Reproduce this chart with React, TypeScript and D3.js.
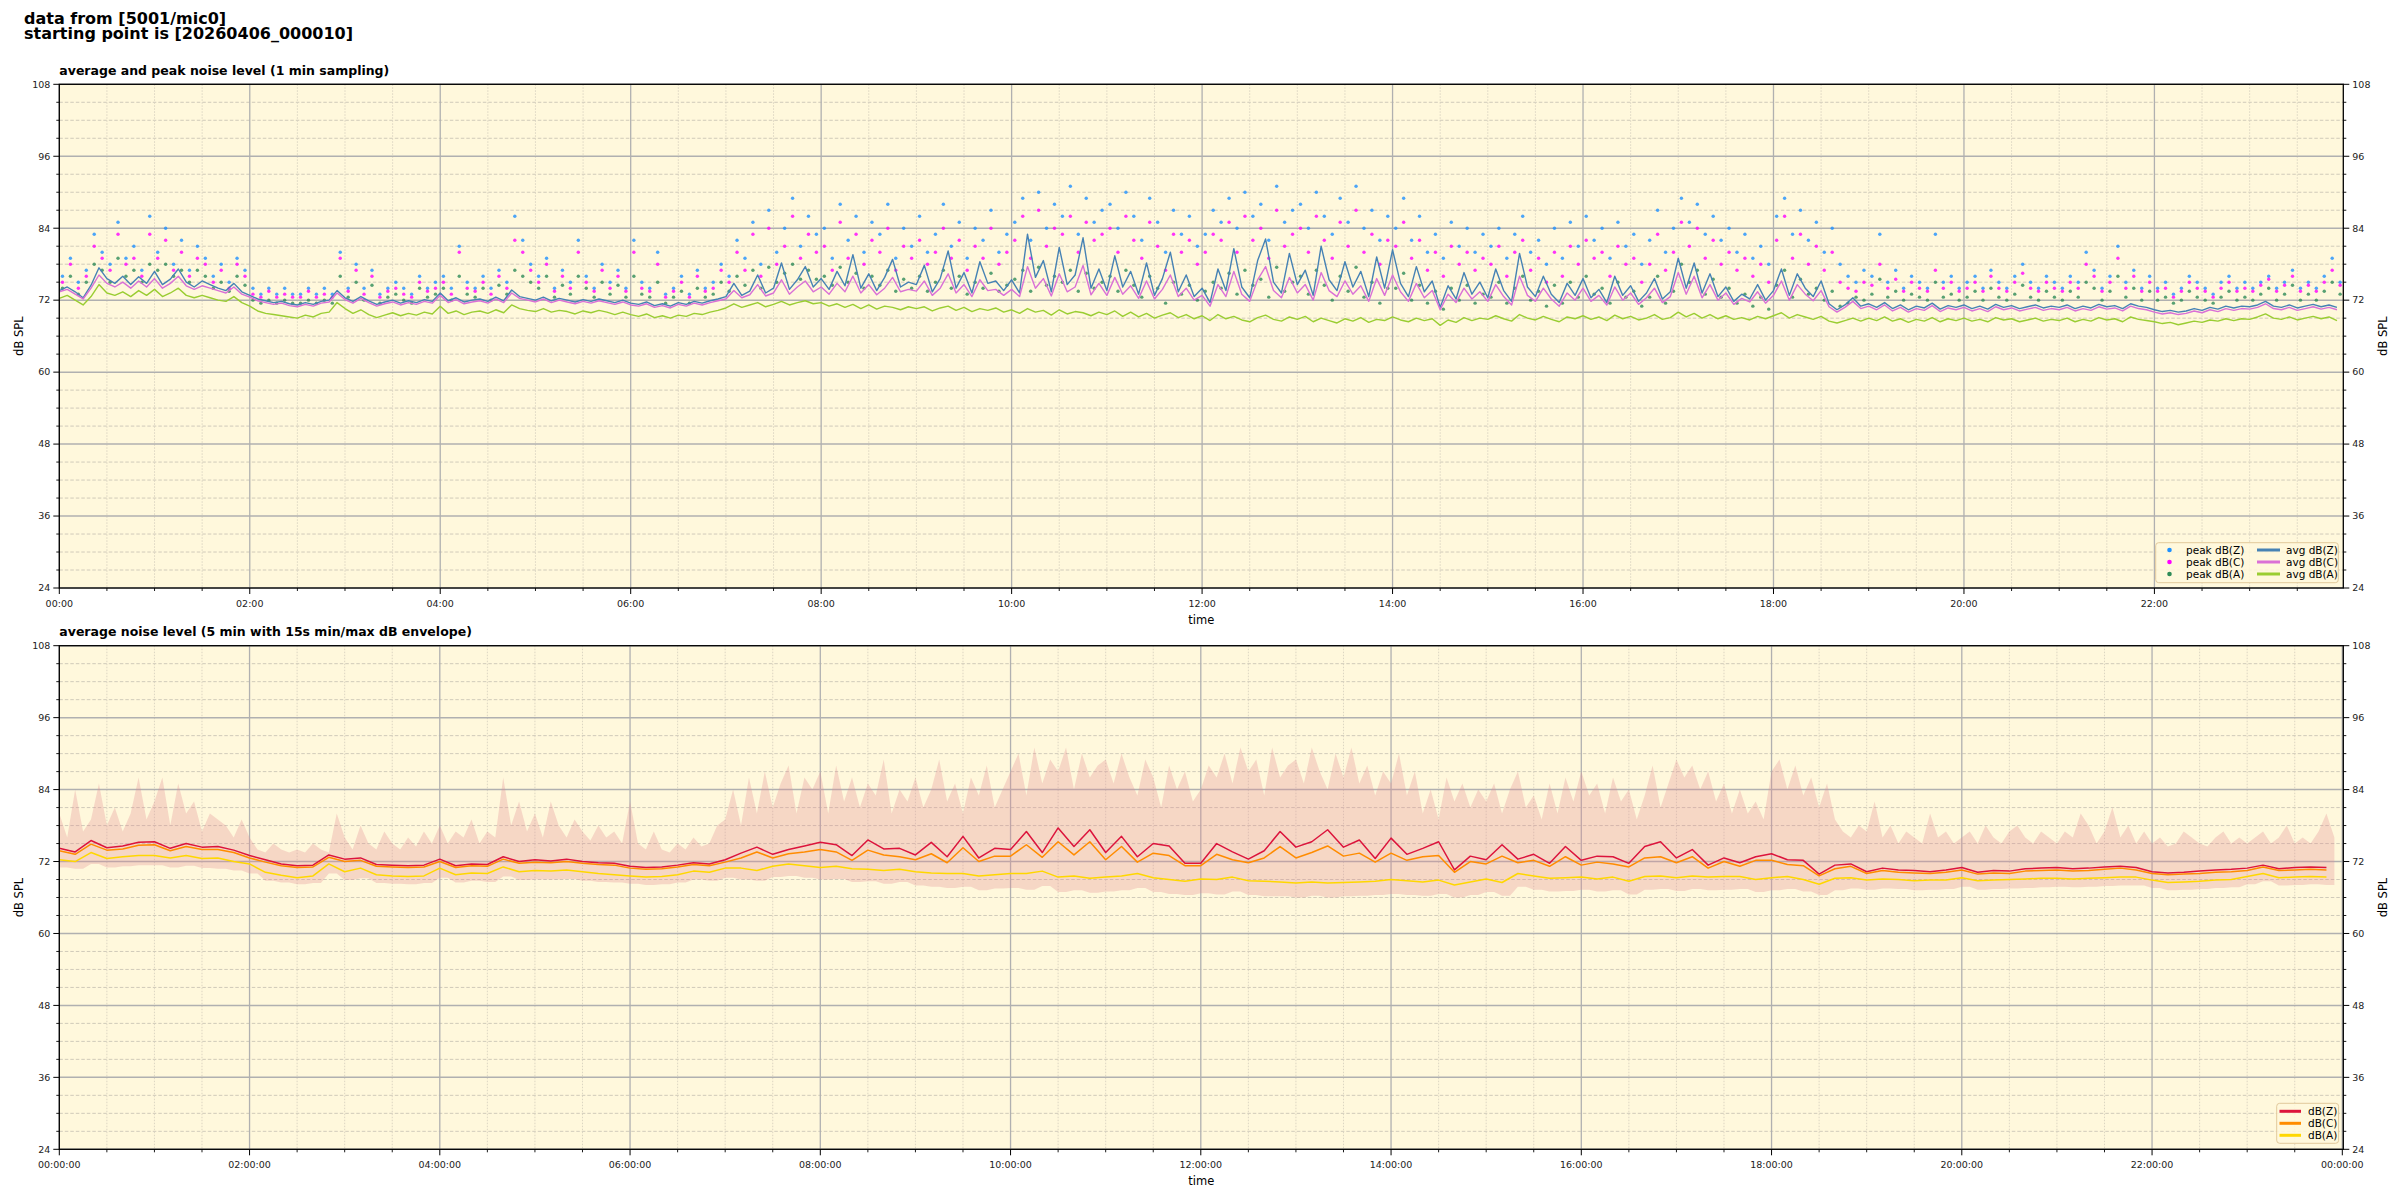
import * as d3 from "d3";

const FONT = "'DejaVu Sans', Verdana, sans-serif";
const WIDTH = 2400;
const HEIGHT = 1200;

const Y_TICKS = [24, 36, 48, 60, 72, 84, 96, 108];
const TOP_X_LABELS = ["00:00", "02:00", "04:00", "06:00", "08:00", "10:00", "12:00", "14:00", "16:00", "18:00", "20:00", "22:00"];
const BOTTOM_X_LABELS = ["00:00:00", "02:00:00", "04:00:00", "06:00:00", "08:00:00", "10:00:00", "12:00:00", "14:00:00", "16:00:00", "18:00:00", "20:00:00", "22:00:00", "00:00:00"];

// sampling steps in minutes
const TOP_STEP = 5;
const BOTTOM_STEP = 10;
const ENV_STEP = 5;

// --- top panel: 1 min averages (one row per hour, 5 min apart) ---
const AVG_Z = [
  73.6, 74.2, 73.4, 72.4, 74.5, 77.4, 75.6, 74.8, 76.0, 74.6, 75.9, 74.8,
  76.8, 74.6, 75.5, 77.2, 75.0, 74.2, 75.2, 74.6, 74.0, 73.6, 74.8, 73.4,
  72.8, 72.2, 71.9, 71.6, 71.8, 71.4, 71.2, 71.6, 71.3, 71.8, 72.0, 73.6,
  72.4, 71.8, 72.6, 71.9, 71.3, 71.7, 72.0, 71.5, 71.9, 71.6, 72.1, 71.8,
  73.2, 71.9, 72.4, 71.7, 72.0, 72.2, 71.8, 72.5, 71.9, 73.7, 72.6, 72.3,
  72.0, 72.5, 71.9, 72.3, 72.0, 71.7, 72.1, 71.8, 72.2, 71.9, 71.6, 72.0,
  71.5, 71.3, 71.7, 71.1, 71.4, 71.0, 71.6, 71.3, 71.8, 71.5, 71.9, 72.2,
  72.6, 74.8, 72.8, 73.5, 76.2, 73.2, 74.0, 78.2, 73.8, 75.4, 77.6, 74.2,
  75.6, 73.8, 76.8, 74.4, 79.6, 74.0, 76.4, 73.6, 75.8, 78.8, 74.2, 75.0,
  74.6, 77.8, 73.4, 75.6, 80.2, 74.0, 76.6, 73.2, 78.4, 74.8, 75.2, 73.6,
  75.4, 73.2, 83.0, 75.8, 78.6, 73.4, 80.8, 74.6, 76.2, 82.4, 74.0, 77.2,
  73.6, 79.4, 74.2, 76.8, 73.0, 78.2, 72.8, 75.6, 80.0, 73.4, 76.2, 72.6,
  74.0, 71.6, 77.2, 73.6, 80.6, 74.2, 72.4, 78.6, 82.2, 75.0, 73.2, 79.8,
  74.6, 77.0, 72.8, 81.0, 75.4, 73.6, 78.4, 74.2, 76.8, 72.6, 79.2, 74.0,
  80.4, 74.8, 72.6, 77.6, 73.4, 75.2, 70.8, 74.4, 72.2, 76.6, 73.0, 75.0,
  72.4, 77.2, 73.6, 71.8, 79.8, 74.2, 72.6, 76.0, 73.0, 71.6, 74.8, 72.8,
  75.6, 72.4, 73.8, 71.6, 76.0, 72.8, 74.4, 71.8, 73.2, 75.6, 72.2, 73.4,
  79.0, 74.0, 78.2, 73.2, 76.4, 72.6, 74.2, 71.8, 73.0, 72.2, 74.6, 72.0,
  73.6, 77.2, 72.8, 76.4, 74.0, 72.6, 75.2, 71.4, 70.4, 71.2, 72.4, 71.0,
  71.4, 70.8, 71.6, 70.6, 71.2, 70.4, 71.0, 70.7, 71.5, 70.5, 71.1, 70.8,
  71.2, 70.6, 71.0, 70.5, 71.3, 70.8, 71.1, 70.6, 70.9, 71.2, 70.7, 71.0,
  70.8, 71.2, 70.6, 71.0, 70.7, 71.3, 70.9, 71.1, 70.6, 71.4, 71.0, 70.8,
  70.4, 70.1, 70.3, 70.0, 70.2, 70.6, 70.3, 70.8, 70.5, 71.0, 70.7, 71.0,
  70.9, 71.2, 71.8, 71.0, 70.8, 71.2, 70.7, 71.0, 71.3, 70.9, 71.2, 70.8,
];

const AVG_C = [
  73.4, 73.8, 73.0, 72.2, 74.0, 76.2, 74.8, 74.2, 75.0, 74.0, 75.2, 74.2,
  75.6, 74.0, 74.8, 76.0, 74.4, 73.8, 74.4, 74.0, 73.6, 73.2, 74.2, 73.0,
  72.5, 71.9, 71.6, 71.3, 71.5, 71.1, 70.9, 71.3, 71.0, 71.5, 71.7, 73.2,
  72.1, 71.5, 72.3, 71.6, 71.0, 71.4, 71.7, 71.2, 71.6, 71.3, 71.8, 71.5,
  72.8, 71.6, 72.1, 71.4, 71.7, 71.9, 71.5, 72.2, 71.6, 73.2, 72.3, 72.0,
  71.7, 72.2, 71.6, 72.0, 71.7, 71.4, 71.8, 71.5, 71.9, 71.6, 71.3, 71.7,
  71.2, 71.0, 71.4, 70.8, 71.1, 70.7, 71.3, 71.0, 71.5, 71.2, 71.6, 71.9,
  72.2, 73.6, 72.4, 72.9, 74.6, 72.7, 73.2, 75.4, 73.0, 74.2, 75.2, 73.4,
  74.2, 73.0, 74.8, 73.4, 76.0, 73.2, 74.6, 72.9, 74.0, 75.8, 73.4, 73.8,
  73.5, 75.2, 72.8, 74.0, 76.4, 73.2, 74.6, 72.6, 75.4, 73.6, 73.8, 72.8,
  73.8, 72.6, 77.6, 74.0, 75.6, 72.7, 76.4, 73.4, 74.2, 77.8, 72.9, 74.8,
  72.8, 75.8, 73.0, 74.4, 72.3, 75.2, 72.2, 73.8, 76.2, 72.6, 74.0, 72.0,
  72.8, 71.0, 74.6, 72.6, 76.8, 73.0, 71.8, 75.4, 77.6, 73.6, 72.4, 75.8,
  73.2, 74.6, 72.0, 76.6, 73.6, 72.6, 75.2, 73.0, 74.4, 71.8, 75.6, 72.8,
  76.2, 73.4, 71.8, 74.8, 72.4, 73.6, 70.4, 73.0, 71.6, 74.0, 72.2, 73.4,
  71.8, 74.6, 72.6, 71.2, 76.0, 72.8, 71.8, 74.0, 72.2, 71.0, 73.2, 72.0,
  74.0, 71.8, 72.8, 71.2, 74.2, 72.0, 73.2, 71.3, 72.4, 74.0, 71.6, 72.6,
  76.6, 73.0, 76.0, 72.4, 74.6, 72.0, 73.2, 71.3, 72.3, 71.7, 73.4, 71.5,
  72.8, 75.2, 72.0, 74.6, 73.0, 71.9, 73.6, 70.9, 70.0, 70.8, 71.8, 70.6,
  71.0, 70.4, 71.2, 70.2, 70.8, 70.0, 70.6, 70.3, 71.1, 70.1, 70.7, 70.4,
  70.8, 70.2, 70.6, 70.1, 70.9, 70.4, 70.7, 70.2, 70.5, 70.8, 70.3, 70.6,
  70.4, 70.8, 70.2, 70.6, 70.3, 70.9, 70.5, 70.7, 70.2, 71.0, 70.6, 70.4,
  70.0, 69.7, 69.9, 69.6, 69.8, 70.2, 69.9, 70.4, 70.1, 70.6, 70.3, 70.6,
  70.5, 70.8, 71.4, 70.6, 70.4, 70.8, 70.3, 70.6, 70.9, 70.5, 70.8, 70.4,
];

const AVG_A = [
  72.3, 72.8, 72.0, 71.2, 72.6, 74.6, 73.2, 72.8, 73.4, 72.6, 73.6, 72.8,
  73.8, 72.6, 73.2, 74.0, 72.8, 72.4, 72.8, 72.4, 72.0, 71.8, 72.6, 71.6,
  71.0, 70.2, 69.8, 69.6, 69.4, 69.2, 69.0, 69.5, 69.2, 69.8, 70.0, 71.6,
  70.6, 69.8, 70.4, 69.6, 69.1, 69.5, 69.9, 69.4, 69.8, 69.5, 70.0, 69.7,
  71.0, 69.8, 70.2, 69.6, 70.0, 70.2, 69.8, 70.4, 69.9, 71.2, 70.6, 70.3,
  70.1, 70.6, 70.0, 70.3, 70.1, 69.7, 70.2, 69.9, 70.3, 70.0, 69.6, 70.0,
  69.6, 69.3, 69.7, 69.1, 69.4, 69.0, 69.5, 69.3, 69.8, 69.6, 70.0, 70.3,
  70.7, 71.4, 70.8, 71.2, 71.6, 70.9, 71.3, 71.8, 71.2, 71.6, 71.9, 71.4,
  71.6, 71.0, 71.4, 70.8, 71.3, 70.6, 71.2, 70.5, 71.0, 70.8, 70.4, 70.9,
  70.6, 70.9, 70.2, 70.7, 71.0, 70.3, 70.8, 70.1, 70.6, 70.3, 70.7, 70.0,
  70.4, 69.8, 70.6, 70.0, 70.3, 69.5, 70.4, 69.7, 70.1, 69.9, 69.4, 70.0,
  69.6, 70.2, 69.3, 70.0, 69.2, 69.8, 69.0, 69.5, 69.9, 69.1, 69.6, 68.9,
  69.4, 68.6, 69.6, 68.9, 69.3, 68.7, 68.4, 69.1, 69.5, 68.8, 68.5, 69.2,
  68.8, 69.3, 68.4, 69.0, 68.6, 68.2, 68.9, 68.5, 69.1, 68.3, 68.8, 68.6,
  69.2, 68.7, 68.4, 69.0, 68.6, 68.9, 67.8, 68.7, 68.3, 69.1, 68.6, 69.0,
  68.8, 69.4, 68.9, 68.5, 69.6, 69.0, 68.7, 69.3, 68.8, 68.4, 69.2, 68.9,
  69.4, 68.8, 69.2, 68.6, 69.5, 68.9, 69.3, 68.7, 69.0, 69.6, 68.8, 69.1,
  70.0, 69.2, 69.8, 69.0, 69.6, 68.9, 69.4, 68.8, 69.1, 68.7, 69.3, 68.9,
  69.4, 69.9, 69.0, 69.6, 69.2, 68.8, 69.3, 68.5, 68.2, 68.6, 69.0, 68.5,
  69.0, 68.6, 69.2, 68.5, 68.9, 68.3, 68.8, 68.5, 69.1, 68.4, 68.9, 68.6,
  69.0, 68.5, 68.8, 68.4, 69.1, 68.7, 68.9, 68.4, 68.7, 69.0, 68.5, 68.8,
  68.6, 69.0, 68.4, 68.8, 68.5, 69.1, 68.7, 68.9, 68.4, 69.2, 68.8, 68.6,
  68.4, 68.1, 68.3, 67.9, 68.2, 68.5, 68.3, 68.7, 68.5, 68.9, 68.6, 68.9,
  68.8, 69.2, 69.7, 69.0, 68.8, 69.2, 68.7, 69.0, 69.3, 68.9, 69.2, 68.6,
];

// --- top panel: 1 min peaks ---
const PEAK_Z = [
  76, 79, 75, 77, 83, 80, 78, 85, 79, 81, 77, 86,
  80, 84, 78, 82, 77, 81, 79, 76, 78, 75, 79, 77,
  74, 73, 74, 73, 74, 73, 73, 74, 73, 74, 73, 80,
  74, 78, 74, 77, 73, 74, 75, 74, 73, 76, 74, 75,
  76, 74, 81, 75, 74, 76, 74, 77, 75, 86, 82, 78,
  76, 79, 74, 77, 75, 82, 76, 74, 78, 75, 77, 74,
  82, 75, 74, 80, 73, 74, 76, 73, 77, 74, 75, 78,
  76, 82, 79, 85, 78, 87, 80, 84, 89, 81, 86, 83,
  84, 79, 88, 82, 86, 80, 85, 83, 88, 79, 84, 81,
  86, 80, 83, 88, 81, 85, 79, 84, 82, 87, 80, 83,
  85, 89, 82, 90, 84, 88, 86, 91, 83, 89, 85, 87,
  88, 84, 90, 86, 82, 89, 85, 80, 87, 83, 86, 81,
  83, 87, 85, 89, 84, 90, 86, 88, 82, 91, 85, 87,
  88, 84, 90, 86, 83, 89, 85, 91, 84, 87, 82, 86,
  84, 89, 82, 86, 80, 83, 79, 85, 81, 84, 80, 83,
  81, 84, 79, 83, 86, 80, 82, 78, 84, 79, 85, 81,
  86, 82, 84, 79, 85, 81, 83, 78, 82, 87, 80, 84,
  89, 85, 88, 83, 86, 82, 84, 80, 83, 79, 81, 78,
  86, 89, 83, 87, 82, 85, 80, 84, 78, 76, 75, 77,
  76, 83, 75, 77, 74, 76, 75, 74, 83, 75, 76, 74,
  75, 76, 74, 77, 75, 74, 76, 78, 75, 74, 76, 75,
  74, 76, 75, 80, 77, 74, 76, 81, 75, 77, 74, 76,
  74, 75, 73, 74, 76, 75, 74, 73, 75, 76, 74, 75,
  74, 75, 76, 74, 75, 77, 74, 75, 74, 76, 79, 75,
];

const PEAK_C = [
  75, 78, 74, 76, 81, 79, 77, 83, 78, 79, 76, 83,
  79, 82, 77, 80, 76, 79, 78, 75, 77, 74, 78, 76,
  73, 72.5, 73.5, 72.5, 73, 72.5, 72.5, 73.5, 72.5, 73, 72.5, 79,
  73.5, 77, 73, 76, 72.5, 73.5, 74, 73, 72.5, 75, 73.5, 74,
  75, 73, 80, 74, 73.5, 75, 73, 76, 74, 82, 80, 77,
  75, 78, 73.5, 76, 74, 80, 75, 73.5, 77, 74, 76, 73.5,
  80, 74, 73.5, 78, 72.5, 73.5, 75, 72.5, 76, 73.5, 74, 77,
  75, 80, 77, 83, 76, 84, 78, 81, 86, 79, 83, 80,
  81, 77, 85, 79, 83, 78, 82, 80, 84, 77, 81, 79,
  82, 78, 80, 84, 79, 82, 77, 81, 79, 84, 78, 80,
  82, 86, 79, 87, 81, 84, 83, 86, 80, 85, 82, 83,
  84, 80, 86, 82, 79, 85, 81, 77, 83, 80, 82, 78,
  80, 83, 82, 85, 80, 86, 82, 84, 79, 87, 81, 83,
  84, 80, 86, 82, 79, 85, 81, 87, 80, 83, 78, 82,
  81, 85, 79, 82, 77, 80, 76, 81, 78, 80, 77, 79,
  78, 81, 76, 80, 82, 77, 79, 75, 80, 76, 81, 78,
  82, 79, 80, 76, 81, 78, 79, 75, 78, 83, 77, 80,
  85, 81, 84, 79, 82, 78, 80, 77, 79, 76, 78, 75,
  82, 86, 79, 83, 78, 81, 77, 80, 75, 74, 73.5, 75,
  74.5, 78, 74, 75.5, 73.5, 75, 74, 73.5, 77, 74, 75, 73.5,
  74, 75, 73.5, 76, 74, 73.5, 75, 76.5, 74, 73.5, 75, 74,
  73.5, 75, 74, 78, 76, 73.5, 75, 79, 74, 76, 73.5, 75,
  73.5, 74, 72.5, 73.5, 75, 74, 73.5, 72.5, 74, 75, 73.5, 74,
  73.5, 74.5, 75.5, 73.5, 74.5, 76, 73.5, 74.5, 73.5, 75, 77, 74.5,
];

const PEAK_A = [
  74, 76, 73, 75, 78, 77, 75, 79, 76, 77, 75, 78,
  77, 78, 76, 77, 75, 77, 76, 74, 75, 73.5, 76, 74.5,
  72, 71.5, 72, 71.5, 72, 71.5, 71.5, 72, 71.5, 72, 71.5, 76,
  72.5, 75, 72, 74.5, 71.5, 72.5, 73, 72, 71.5, 74, 72.5, 73,
  74, 72, 76, 73, 72.5, 74, 72, 74.5, 73, 77, 76, 75,
  74, 76, 72.5, 74.5, 73, 76, 74, 72.5, 75, 73, 74.5, 72.5,
  76, 73, 72.5, 75, 71.5, 72.5, 73.5, 71.5, 74, 72.5, 73, 75,
  73.5, 76, 74.5, 77, 74, 77.5, 75, 76.5, 78, 75.5, 77, 75.5,
  76, 74.5, 77.5, 75, 76.5, 74, 76, 74.5, 77, 73.5, 75.5, 74,
  76, 73.5, 75, 77, 74, 76, 73, 75, 74, 76.5, 73.5, 74.5,
  75.5, 77, 73.5, 77.5, 74.5, 76, 75, 77, 73.5, 76.5, 74, 75,
  76, 73.5, 77, 74.5, 72.5, 76, 74, 71.5, 75, 73, 74.5, 72,
  73.5, 75, 74, 76.5, 73, 77, 74.5, 75.5, 72.5, 77.5, 73.5, 75,
  76, 73, 77, 74.5, 72, 76, 73.5, 77.5, 72.5, 75, 71.5, 74,
  74, 76.5, 72, 74.5, 71.5, 73.5, 70.5, 74, 72, 74.5, 71.5, 73,
  72.5, 75, 71.5, 74, 76, 72, 73.5, 71, 74.5, 71.5, 75, 72.5,
  76, 73, 74, 71.5, 75, 72.5, 73.5, 71, 72.5, 76, 71.5, 73.5,
  78, 75, 77, 73, 75.5, 72.5, 74, 71.5, 73, 71, 72.5, 70.5,
  74.5, 77, 72.5, 75.5, 73, 74, 72, 73.5, 71, 71.5, 72.5, 72,
  73, 75.5, 72.5, 73.5, 72, 73, 72.5, 72, 75, 72.5, 73, 72,
  72.5, 73.5, 72, 74, 72.5, 72, 73, 74.5, 72.5, 72, 73.5, 72.5,
  72, 73.5, 72.5, 75, 74, 72, 73.5, 76, 72.5, 74, 72, 73.5,
  72, 72.5, 71.5, 72, 73.5, 72.5, 72, 71.5, 72.5, 73.5, 72, 72.5,
  72, 73, 74, 72, 73, 74.5, 72, 73, 72, 73.5, 75, 73,
];

// --- bottom panel: 5 min averages (rows per hour, 10 min apart) ---
const DB_Z = [
  74.2, 73.6, 75.5, 74.3, 74.6, 75.2,
  75.3, 74.2, 75.0, 74.4, 74.5, 73.9,
  73.0, 72.3, 71.6, 71.3, 71.4, 73.1,
  72.4, 72.6, 71.5, 71.4, 71.3, 71.4,
  72.4, 71.3, 71.6, 71.5, 72.8, 72.0,
  72.3, 72.1, 72.4, 72.0, 71.8, 71.7,
  71.2, 71.0, 71.1, 71.4, 71.8, 71.6,
  72.3, 73.4, 74.4, 73.2, 74.0, 74.6,
  75.2, 74.8, 73.0, 75.6, 74.1, 74.2,
  73.1, 75.2, 72.8, 76.2, 72.6, 74.2,
  74.0, 77.0, 73.5, 77.6, 74.5, 77.3,
  73.5, 76.2, 72.8, 75.0, 74.6, 71.7,
  71.7, 75.0, 73.6, 72.4, 73.8, 77.0,
  74.4, 75.3, 77.3, 74.4, 75.6, 72.5,
  75.9, 73.2, 74.2, 75.3, 70.6, 72.9,
  72.3, 74.8, 72.4, 73.2, 71.7, 74.5,
  72.2, 72.9, 72.8, 71.7, 74.5, 75.3,
  72.6, 74.0, 71.4, 72.6, 71.8, 72.8,
  73.3, 72.3, 72.2, 69.9, 71.4, 71.6,
  70.3, 70.9, 70.6, 70.5, 70.3, 70.6,
  71.0, 70.2, 70.5, 70.4, 70.8, 70.9,
  71.0, 70.8, 70.9, 71.1, 71.2, 71.0,
  70.3, 70.1, 70.2, 70.4, 70.6, 70.7,
  70.9, 71.4, 70.8, 71.0, 71.1, 71.0,
];

const DB_C = [
  73.8, 73.2, 74.9, 73.9, 74.1, 74.7,
  74.8, 73.8, 74.5, 74.0, 74.0, 73.5,
  72.6, 71.9, 71.3, 71.0, 71.1, 72.7,
  72.0, 72.2, 71.2, 71.1, 71.0, 71.1,
  72.0, 71.0, 71.3, 71.2, 72.4, 71.7,
  71.9, 71.8, 72.0, 71.7, 71.5, 71.4,
  70.9, 70.7, 70.8, 71.1, 71.5, 71.3,
  71.9, 72.6, 73.6, 72.6, 73.3, 73.6,
  74.0, 73.6, 72.2, 73.9, 73.1, 72.8,
  72.3, 73.3, 71.8, 74.3, 72.0, 72.9,
  72.9, 74.8, 72.7, 75.3, 73.1, 75.3,
  72.3, 74.5, 71.9, 73.4, 73.0, 71.3,
  71.3, 73.2, 72.3, 71.8, 72.6, 74.5,
  72.6, 73.5, 74.6, 72.9, 73.4, 71.9,
  73.4, 72.2, 72.8, 73.0, 70.2, 72.0,
  71.6, 72.9, 71.8, 72.2, 71.2, 72.8,
  71.4, 71.9, 71.6, 71.1, 72.6, 72.8,
  71.8, 72.8, 70.9, 72.0, 71.2, 72.2,
  72.2, 71.5, 71.3, 69.6, 70.8, 71.2,
  70.0, 70.5, 70.2, 70.1, 70.0, 70.2,
  70.6, 69.9, 70.1, 70.0, 70.4, 70.5,
  70.6, 70.4, 70.5, 70.7, 70.9, 70.6,
  70.0, 69.8, 69.9, 70.0, 70.2, 70.3,
  70.5, 71.1, 70.5, 70.6, 70.7, 70.6,
];

const DB_A = [
  72.3, 72.0, 73.5, 72.5, 72.8, 73.0,
  73.0, 72.6, 73.0, 72.5, 72.6, 72.0,
  71.6, 70.2, 69.7, 69.3, 69.6, 71.6,
  70.3, 70.9, 69.8, 69.6, 69.5, 69.6,
  70.9, 69.8, 70.1, 70.0, 71.1, 70.3,
  70.5, 70.4, 70.6, 70.3, 70.0, 69.8,
  69.6, 69.4, 69.5, 69.8, 70.4, 70.2,
  70.9, 70.9, 70.5, 71.2, 71.6, 71.3,
  71.0, 71.2, 70.8, 70.7, 70.5, 70.7,
  70.3, 70.1, 70.0, 70.0, 69.6, 69.8,
  70.0, 70.0, 70.4, 69.4, 69.6, 69.2,
  69.4, 69.6, 70.0, 69.3, 69.0, 68.7,
  69.1, 69.0, 69.4, 68.8, 68.7, 68.6,
  68.4, 68.6, 68.4, 68.5, 68.6, 68.7,
  69.0, 68.8, 68.6, 68.9, 68.1, 68.6,
  69.1, 68.5, 70.0, 69.6, 69.2, 69.3,
  69.4, 69.1, 69.4, 68.7, 69.5, 69.6,
  69.3, 69.6, 69.4, 69.5, 69.5, 69.0,
  69.3, 69.5, 69.0, 68.2, 69.2, 69.3,
  68.9, 69.1, 69.0, 68.8, 68.9, 68.9,
  69.3, 68.8, 68.9, 69.0, 69.1, 69.2,
  69.2, 69.1, 69.2, 69.3, 69.4, 69.4,
  68.9, 68.5, 68.6, 68.7, 68.9, 69.0,
  69.5, 70.0, 69.3, 69.4, 69.5, 69.4,
];

// 15 s min/max envelope: max every 5 min, min every 10 min
const ENV_MAX = [
  80, 76, 84, 77, 79, 85, 78, 81, 77, 80, 86, 79,
  82, 86, 78, 85, 80, 82, 77, 80, 79, 78, 76, 79,
  76, 74, 73.5, 75, 74, 73.5, 74, 73.5, 75, 74, 73.5, 80,
  76, 74, 78, 75, 74, 77, 75, 74, 76, 74.5, 77, 75,
  78, 75, 77, 76, 79, 75, 77, 76, 86, 78, 82, 77,
  80, 76, 82, 78, 76, 79, 77, 75.5, 78, 76, 77, 75,
  82, 75, 74, 77, 74, 73.5, 75, 74, 76, 74.5, 75, 78,
  79, 84, 78, 86, 80, 87, 81, 85, 88, 80, 86, 84,
  87, 80, 88, 82, 86, 81, 85, 83, 89, 80, 84, 82,
  86, 81, 84, 89, 82, 85, 80, 86, 83, 88, 81, 84,
  87, 90, 83, 91, 85, 89, 87, 91, 84, 90, 86, 88,
  89, 85, 90, 86, 83, 89, 86, 81, 88, 84, 87, 82,
  84, 88, 86, 90, 85, 91, 87, 89, 83, 91, 86, 88,
  89, 85, 91, 87, 84, 90, 86, 91, 85, 88, 83, 87,
  85, 90, 83, 87, 80, 84, 79, 86, 82, 85, 81, 84,
  82, 85, 80, 84, 87, 81, 83, 79, 85, 80, 86, 82,
  87, 83, 85, 80, 86, 82, 84, 79, 83, 88, 81, 85,
  89, 86, 88, 84, 87, 82, 85, 80, 84, 80, 82, 79,
  87, 89, 84, 88, 83, 86, 81, 85, 79, 77, 76, 78,
  77, 82, 76, 78, 75, 77, 76, 75, 80, 76, 77, 75,
  76, 77, 75, 78, 76, 75, 77, 78, 76, 75, 77, 76,
  75, 77, 76, 80, 78, 75, 77, 81, 76, 78, 75, 77,
  75, 76, 74.5, 75, 77, 76, 75, 74.5, 76, 77, 75, 76,
  75, 76, 77, 75, 76, 78, 75, 76, 75, 77, 80, 76,
];

const ENV_MIN = [
  71.0, 70.8, 71.6, 71.0, 71.2, 71.4,
  71.4, 71.0, 71.3, 70.9, 70.8, 70.5,
  70.0, 68.8, 68.5, 68.2, 68.4, 70.0,
  68.9, 69.2, 68.4, 68.3, 68.2, 68.4,
  69.3, 68.5, 68.8, 68.6, 69.5, 68.9,
  69.0, 69.0, 69.1, 68.8, 68.6, 68.5,
  68.3, 68.1, 68.2, 68.5, 69.0, 68.8,
  69.3, 69.0, 68.8, 69.4, 69.6, 69.3,
  69.0, 69.1, 68.6, 68.7, 68.3, 68.6,
  68.0, 67.8, 67.6, 67.8, 67.2, 67.5,
  67.6, 67.3, 67.9, 66.9, 67.2, 66.8,
  67.0, 67.2, 67.6, 66.9, 66.6, 66.4,
  66.7, 66.5, 67.0, 66.4, 66.2, 66.2,
  66.0, 66.3, 66.0, 66.2, 66.3, 66.4,
  66.6, 66.4, 66.3, 66.6, 66.0, 66.4,
  66.9, 66.3, 67.8, 67.3, 67.0, 67.1,
  67.3, 67.0, 67.2, 66.5, 67.3, 67.4,
  67.1, 67.4, 67.2, 67.3, 67.4, 66.9,
  67.2, 67.4, 67.0, 66.4, 67.2, 67.5,
  67.3, 67.5, 67.4, 67.2, 67.3, 67.4,
  67.8, 67.3, 67.4, 67.5, 67.6, 67.7,
  67.8, 67.7, 67.8, 67.9, 68.0, 68.0,
  67.6, 67.2, 67.3, 67.4, 67.6, 67.7,
  68.2, 68.7, 68.0, 68.1, 68.2, 68.1,
];

const BG = "#fff8dc";
const LEFT = 59.3;
const RIGHT = 2343.3;
const TOP_PANEL = { top: 84.3, bottom: 588 };
const BOT_PANEL = { top: 645.7, bottom: 1149.3 };

const Y_MINOR = d3.range(24, 109, 3).filter((v) => v % 12 !== 0);

type Scale = d3.ScaleLinear<number, number>;

function Frame({
  x,
  y,
  top,
  bottom,
  xMax,
  xLabels,
  title,
}: {
  x: Scale;
  y: Scale;
  top: number;
  bottom: number;
  xMax: number;
  xLabels: string[];
  title: string;
}) {
  const xMajor = xLabels.map((_, i) => i * 120);
  const xMinor = d3.range(30, xMax + 1, 30).filter((m) => m % 120 !== 0);
  return (
    <g>
      <text x={LEFT} y={top - 9.5} fontSize={12.5} fontWeight="bold" fill="#000">
        {title}
      </text>
      <rect x={LEFT} y={top} width={RIGHT - LEFT} height={bottom - top} fill={BG} />
      {Y_MINOR.map((v) => (
        <line key={"ym" + v} x1={LEFT} x2={RIGHT} y1={y(v)} y2={y(v)} stroke="#cbc5b6" strokeWidth={0.9} strokeDasharray="3.5,2" />
      ))}
      {xMinor.map((m) => (
        <line key={"xm" + m} x1={x(m)} x2={x(m)} y1={top} y2={bottom} stroke="#d8d1bf" strokeWidth={0.9} strokeDasharray="1.5,1.5" />
      ))}
      {Y_TICKS.map((v) => (
        <line key={"yM" + v} x1={LEFT} x2={RIGHT} y1={y(v)} y2={y(v)} stroke="#b0b0b0" strokeWidth={1.5} />
      ))}
      {xMajor.map((m) => (
        <line key={"xM" + m} x1={x(m)} x2={x(m)} y1={top} y2={bottom} stroke="#b0b0b0" strokeWidth={1.3} />
      ))}
    </g>
  );
}

function AxesOverlay({
  x,
  y,
  top,
  bottom,
  xMax,
  xLabels,
}: {
  x: Scale;
  y: Scale;
  top: number;
  bottom: number;
  xMax: number;
  xLabels: string[];
}) {
  const xMajor = xLabels.map((_, i) => i * 120);
  const xMinor = d3.range(30, xMax + 1, 30).filter((m) => m % 120 !== 0);
  const mid = (top + bottom) / 2;
  return (
    <g fill="#222" fontSize={9.5}>
      <rect x={LEFT} y={top} width={RIGHT - LEFT} height={bottom - top} fill="none" stroke="#000" strokeWidth={1.3} />
      {Y_TICKS.map((v) => (
        <g key={"yt" + v}>
          <line x1={LEFT - 6} x2={LEFT} y1={y(v)} y2={y(v)} stroke="#000" strokeWidth={1} />
          <line x1={RIGHT} x2={RIGHT + 6} y1={y(v)} y2={y(v)} stroke="#000" strokeWidth={1} />
          <text x={LEFT - 9} y={y(v)} dy="0.35em" textAnchor="end">{v}</text>
          <text x={RIGHT + 9} y={y(v)} dy="0.35em">{v}</text>
        </g>
      ))}
      {Y_MINOR.map((v) => (
        <g key={"ytm" + v}>
          <line x1={LEFT - 3} x2={LEFT} y1={y(v)} y2={y(v)} stroke="#000" strokeWidth={0.9} />
          <line x1={RIGHT} x2={RIGHT + 3} y1={y(v)} y2={y(v)} stroke="#000" strokeWidth={0.9} />
        </g>
      ))}
      {xMajor.map((m, i) => (
        <g key={"xt" + m}>
          <line x1={x(m)} x2={x(m)} y1={bottom} y2={bottom + 6} stroke="#000" strokeWidth={1} />
          <text x={x(m)} y={bottom + 19} textAnchor="middle">{xLabels[i]}</text>
        </g>
      ))}
      {xMinor.map((m) => (
        <line key={"xtm" + m} x1={x(m)} x2={x(m)} y1={bottom} y2={bottom + 3} stroke="#000" strokeWidth={0.9} />
      ))}
      <text x={(LEFT + RIGHT) / 2} y={bottom + 36} textAnchor="middle" fontSize={11.5} fill="#000">time</text>
      <text transform={`translate(23,${mid}) rotate(-90)`} textAnchor="middle" fontSize={11.5} fill="#000">dB SPL</text>
      <text transform={`translate(2387,${mid}) rotate(-90)`} textAnchor="middle" fontSize={11.5} fill="#000">dB SPL</text>
    </g>
  );
}

export default function App() {
  const xTop = d3.scaleLinear().domain([0, 1439]).range([LEFT, RIGHT]);
  const xBot = d3.scaleLinear().domain([0, 1440]).range([LEFT, RIGHT - 1]);
  const yTop = d3.scaleLinear().domain([24, 108]).range([TOP_PANEL.bottom, TOP_PANEL.top]);
  const yBot = d3.scaleLinear().domain([24, 108]).range([BOT_PANEL.bottom, BOT_PANEL.top]);

  const topLine = d3.line<number>().x((_, i) => xTop(i * TOP_STEP)).y((d) => yTop(d));
  const botLine = d3.line<number>().x((_, i) => xBot(i * BOTTOM_STEP)).y((d) => yBot(d));
  const envArea = d3
    .area<number>()
    .x((_, i) => xBot(i * ENV_STEP))
    .y0((_, i) => yBot(ENV_MIN[Math.min(ENV_MIN.length - 1, Math.floor(i / 2))]))
    .y1((d) => yBot(d));

  const peaks: [number[], string][] = [
    [PEAK_Z, "#1e90ff"],
    [PEAK_C, "#ff00ff"],
    [PEAK_A, "#2e8b57"],
  ];
  const avgs: [number[], string][] = [
    [AVG_Z, "#4682b4"],
    [AVG_C, "#da70d6"],
    [AVG_A, "#9acd32"],
  ];
  const dbs: [number[], string][] = [
    [DB_Z, "#dc143c"],
    [DB_C, "#ff8c00"],
    [DB_A, "#ffd700"],
  ];

  return (
    <svg
      width={WIDTH}
      height={HEIGHT}
      style={{ position: "absolute", left: 0, top: 0, background: "#fff" }}
      fontFamily={FONT}
    >
      <rect width={WIDTH} height={HEIGHT} fill="#fff" />
      <text x={24} y={23.5} fontSize={16} fontWeight="bold">data from [5001/mic0]</text>
      <text x={24} y={39} fontSize={16} fontWeight="bold">starting point is [20260406_000010]</text>

      <defs>
        <clipPath id="clipTop">
          <rect x={LEFT} y={TOP_PANEL.top} width={RIGHT - LEFT} height={TOP_PANEL.bottom - TOP_PANEL.top} />
        </clipPath>
        <clipPath id="clipBot">
          <rect x={LEFT} y={BOT_PANEL.top} width={RIGHT - LEFT} height={BOT_PANEL.bottom - BOT_PANEL.top} />
        </clipPath>
      </defs>

      {/* top panel */}
      <Frame x={xTop} y={yTop} top={TOP_PANEL.top} bottom={TOP_PANEL.bottom} xMax={1439} xLabels={TOP_X_LABELS} title="average and peak noise level (1 min sampling)" />
      <g clipPath="url(#clipTop)">
        {peaks.map(([vals, color], k) => (
          <g key={"p" + k} fill={color} fillOpacity={0.8}>
            {vals.map((v, i) => (
              <circle key={i} cx={xTop(i * TOP_STEP + 2)} cy={yTop(v)} r={1.7} />
            ))}
          </g>
        ))}
        {avgs.map(([vals, color], k) => (
          <path key={"a" + k} d={topLine(vals) ?? ""} fill="none" stroke={color} strokeWidth={1.4} strokeLinejoin="round" />
        ))}
      </g>
      <AxesOverlay x={xTop} y={yTop} top={TOP_PANEL.top} bottom={TOP_PANEL.bottom} xMax={1439} xLabels={TOP_X_LABELS} />

      {/* top legend */}
      <g fontSize={10.5} fill="#000">
        <rect x={2155.7} y={542.7} width={182.6} height={40} rx={3} fill="#fff8dc" fillOpacity={0.85} stroke="#e2c99c" strokeWidth={1} />
        {peaks.map(([, color], k) => (
          <g key={"lp" + k}>
            <circle cx={2169.5} cy={550 + k * 12} r={2.3} fill={color} />
            <text x={2186} y={550 + k * 12} dy="0.35em">{["peak dB(Z)", "peak dB(C)", "peak dB(A)"][k]}</text>
          </g>
        ))}
        {avgs.map(([, color], k) => (
          <g key={"la" + k}>
            <line x1={2257} x2={2280} y1={550 + k * 12} y2={550 + k * 12} stroke={color} strokeWidth={3} />
            <text x={2286} y={550 + k * 12} dy="0.35em">{["avg dB(Z)", "avg dB(C)", "avg dB(A)"][k]}</text>
          </g>
        ))}
      </g>

      {/* bottom panel */}
      <Frame x={xBot} y={yBot} top={BOT_PANEL.top} bottom={BOT_PANEL.bottom} xMax={1440} xLabels={BOTTOM_X_LABELS} title="average noise level (5 min with 15s min/max dB envelope)" />
      <g clipPath="url(#clipBot)">
        <path d={envArea(ENV_MAX) ?? ""} fill="#e28a92" fillOpacity={0.3} stroke="none" />
        {dbs.map(([vals, color], k) => (
          <path key={"d" + k} d={botLine(vals) ?? ""} fill="none" stroke={color} strokeWidth={1.5} strokeLinejoin="round" />
        ))}
      </g>
      <AxesOverlay x={xBot} y={yBot} top={BOT_PANEL.top} bottom={BOT_PANEL.bottom} xMax={1440} xLabels={BOTTOM_X_LABELS} />

      {/* bottom legend */}
      <g fontSize={10.5} fill="#000">
        <rect x={2276.7} y={1103.3} width={61.9} height={40} rx={3} fill="#fff8dc" fillOpacity={0.85} stroke="#e2c99c" strokeWidth={1} />
        {dbs.map(([, color], k) => (
          <g key={"ld" + k}>
            <line x1={2279.5} x2={2301} y1={1111.3 + k * 12} y2={1111.3 + k * 12} stroke={color} strokeWidth={3} />
            <text x={2308} y={1111.3 + k * 12} dy="0.35em">{["dB(Z)", "dB(C)", "dB(A)"][k]}</text>
          </g>
        ))}
      </g>
    </svg>
  );
}
